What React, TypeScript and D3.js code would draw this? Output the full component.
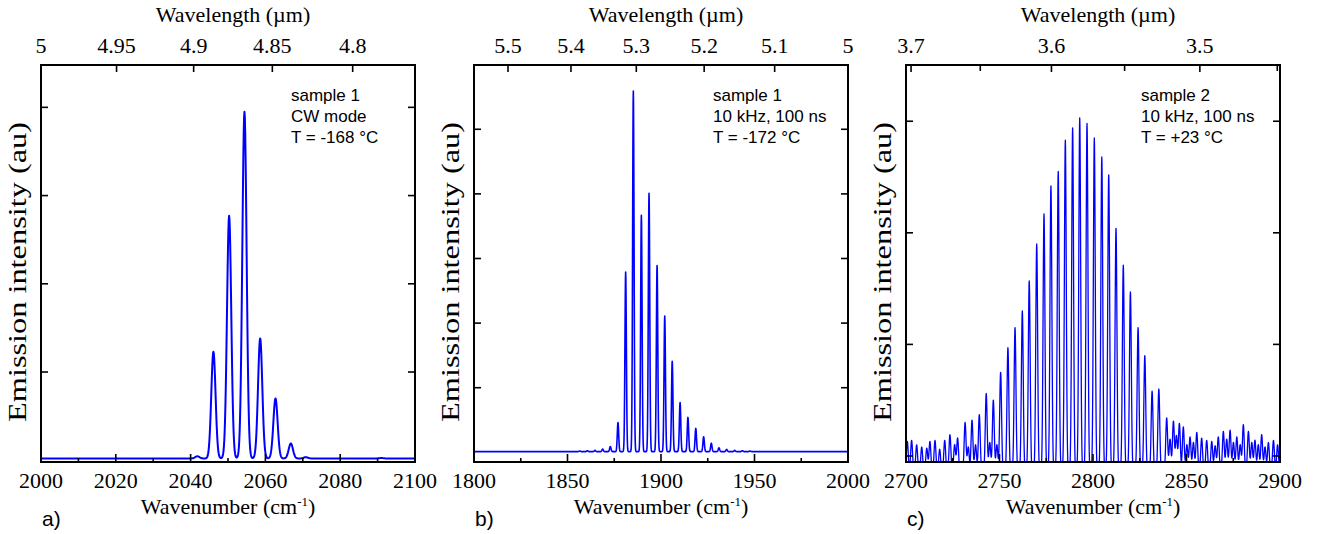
import React from "react";
import * as d3 from "d3";

// ---------- data ----------
// Panel a: sample 1, CW mode
const aPeakPos = [2041.8, 2046.1, 2050.3, 2054.4, 2058.6, 2062.7, 2066.8, 2070.8, 2091.0];
const aPeakHeight = [0.045, 1.23, 2.77, 3.95, 1.38, 0.70, 0.19, 0.035, 0.025];
const aMajorTicks = [2000, 2020, 2040, 2060, 2080, 2100];
const aMinorTicks = [2010, 2030, 2050, 2070, 2090];
const aWavelengthLabels = [5, 4.95, 4.9, 4.85, 4.8];
const aWavelengthMinor: number[] = [];
const aYTicks = [1, 2, 3, 4];
const aNote = ["sample 1", "CW mode", "T = -168 °C"];

// Panel b: sample 1, pulsed
const bPeakPos = [1856.5, 1860.6, 1864.7, 1868.8, 1872.9, 1877.0, 1881.1, 1885.2, 1889.5, 1893.6, 1897.9, 1902.0, 1906.0, 1910.2, 1914.4, 1918.6, 1922.8, 1926.9, 1931.0, 1935.1, 1939.4, 1943.5, 1947.6];
const bPeakHeight = [0.02, 0.025, 0.03, 0.05, 0.09, 0.46, 2.79, 5.59, 3.67, 4.01, 2.89, 2.11, 1.41, 0.77, 0.54, 0.37, 0.24, 0.14, 0.07, 0.045, 0.03, 0.025, 0.02];
const bMajorTicks = [1800, 1850, 1900, 1950, 2000];
const bMinorTicks = [1825, 1875, 1925, 1975];
const bWavelengthLabels = [5.5, 5.4, 5.3, 5.2, 5.1, 5];
const bWavelengthMinor: number[] = [];
const bYTicks = [1, 2, 3, 4, 5];
const bNote = ["sample 1", "10 kHz, 100 ns", "T = -172 °C"];

// Panel c: sample 2, pulsed, room temperature
const cPeakPos = [
  2700.7, 2703.0, 2705.7, 2708.4, 2711.1, 2712.8, 2715.5, 2718.0, 2720.7, 2723.5,
  2726.0, 2727.6, 2731.6, 2733.3, 2735.3, 2737.2, 2739.2, 2742.9, 2744.8, 2746.7,
  2748.6, 2750.6, 2754.5, 2758.3, 2762.2, 2765.9, 2769.9, 2773.8, 2777.5, 2781.4,
  2785.2, 2789.1, 2792.9, 2796.8, 2800.7, 2804.7, 2808.4, 2812.3, 2816.2, 2820.0,
  2824.1, 2827.7, 2831.6, 2835.2, 2839.4, 2841.2, 2843.0, 2844.6, 2846.2, 2848.3,
  2850.2, 2851.9, 2853.7, 2855.5, 2858.1, 2860.8, 2863.5, 2865.3, 2867.0, 2869.7,
  2871.5, 2873.3, 2875.1, 2876.9, 2878.7, 2880.4, 2883.1, 2884.9, 2886.6, 2888.4,
  2890.2, 2892.0, 2893.8, 2896.5, 2898.7,
];
const cPeakHeight = [
  0.13, 0.14, 0.10, 0.08, 0.07, 0.13, 0.14, 0.06, 0.14, 0.19,
  0.10, 0.16, 0.30, 0.08, 0.32, 0.10, 0.37, 0.56, 0.12, 0.50,
  0.10, 0.75, 0.97, 1.15, 1.30, 1.57, 1.90, 2.17, 2.42, 2.55,
  2.83, 2.94, 3.03, 2.98, 2.85, 2.68, 2.52, 2.04, 1.71, 1.47,
  1.15, 0.90, 0.58, 0.60, 0.34, 0.15, 0.31, 0.18, 0.29, 0.26,
  0.10, 0.17, 0.12, 0.21, 0.16, 0.14, 0.13, 0.09, 0.17, 0.22,
  0.15, 0.23, 0.12, 0.17, 0.10, 0.28, 0.22, 0.12, 0.14, 0.10,
  0.19, 0.08, 0.12, 0.14, 0.10,
];
const cMajorTicks = [2700, 2750, 2800, 2850, 2900];
const cMinorTicks = [2725, 2775, 2825, 2875];
const cWavelengthLabels = [3.7, 3.6, 3.5];
const cWavelengthMinor = [3.65, 3.55, 3.45];
const cYTicks = [0, 1, 2, 3];
const cNote = ["sample 2", "10 kHz, 100 ns", "T = +23 °C"];

// ---------- layout ----------
const WIDTH = 1317;
const HEIGHT = 534;
const TOP = 65;
const BOTTOM = 462;
const SERIF = "'Liberation Serif', 'Times New Roman', serif";
const SANS = "'Liberation Sans', Arial, sans-serif";
const BLUE = "#0000ff";

interface PanelSpec {
  id: string;
  left: number;
  right: number;
  xDomain: [number, number];
  yDomain: [number, number];
  major: number[];
  minor: number[];
  wl: number[];
  wlMinor: number[];
  yTicks: number[];
  pos: number[];
  height: number[];
  baseline: number;
  sigma: number;
  step: number;
  lineWidth: number;
  note: string[];
  noteX: number;
  letter: string;
}

const panels: PanelSpec[] = [
  {
    id: "a", left: 41, right: 415, xDomain: [2000, 2100], yDomain: [-0.02, 4.48],
    major: aMajorTicks, minor: aMinorTicks, wl: aWavelengthLabels, wlMinor: aWavelengthMinor,
    yTicks: aYTicks, pos: aPeakPos, height: aPeakHeight, baseline: 0.02, sigma: 0.57, step: 0.1,
    lineWidth: 2, note: aNote, noteX: 291, letter: "a)",
  },
  {
    id: "b", left: 474, right: 848, xDomain: [1800, 2000], yDomain: [-0.15, 5.995],
    major: bMajorTicks, minor: bMinorTicks, wl: bWavelengthLabels, wlMinor: bWavelengthMinor,
    yTicks: bYTicks, pos: bPeakPos, height: bPeakHeight, baseline: 0.01, sigma: 0.38, step: 0.1,
    lineWidth: 1.6, note: bNote, noteX: 713, letter: "b)",
  },
  {
    id: "c", left: 906, right: 1280, xDomain: [2700, 2900], yDomain: [-0.054, 3.504],
    major: cMajorTicks, minor: cMinorTicks, wl: cWavelengthLabels, wlMinor: cWavelengthMinor,
    yTicks: cYTicks, pos: cPeakPos, height: cPeakHeight, baseline: -0.14, sigma: 0.5, step: 0.1,
    lineWidth: 1.3, note: cNote, noteX: 1141, letter: "c)",
  },
];

function Panel({ p }: { p: PanelSpec }) {
  const x = d3.scaleLinear().domain(p.xDomain).range([p.left, p.right]);
  const y = d3.scaleLinear().domain(p.yDomain).range([BOTTOM, TOP]);
  const grid = d3.range(p.xDomain[0], p.xDomain[1] + p.step / 2, p.step);
  const pts: [number, number][] = grid.map((v) => {
    let s = p.baseline;
    for (let i = 0; i < p.pos.length; i++) {
      const d = (v - p.pos[i]) / p.sigma;
      s += (p.height[i] - p.baseline) * Math.exp(-0.5 * d * d);
    }
    return [v, s];
  });
  const line = d3
    .line<[number, number]>()
    .x((d) => x(d[0]))
    .y((d) => y(d[1]));
  const cx = (p.left + p.right) / 2;
  const clipId = `clip-${p.id}`;
  const tick = { stroke: "#000", strokeWidth: 1.6 };
  return (
    <g>
      <defs>
        <clipPath id={clipId}>
          <rect x={p.left} y={TOP} width={p.right - p.left} height={BOTTOM - TOP} />
        </clipPath>
      </defs>
      <path d={line(pts) || ""} fill="none" stroke={BLUE} strokeWidth={p.lineWidth}
        strokeLinejoin="round" clipPath={`url(#${clipId})`} />
      {/* bottom ticks */}
      {p.major.map((t) => (
        <g key={`M${t}`}>
          <line x1={x(t)} x2={x(t)} y1={BOTTOM} y2={BOTTOM - 8} {...tick} />
          <text x={x(t)} y={488} textAnchor="middle" fontFamily={SERIF} fontSize={22}>{t}</text>
        </g>
      ))}
      {p.minor.map((t) => (
        <line key={`m${t}`} x1={x(t)} x2={x(t)} y1={BOTTOM} y2={BOTTOM - 4} {...tick} />
      ))}
      {/* top wavelength axis */}
      {p.wl.map((w) => (
        <g key={`w${w}`}>
          <line x1={x(10000 / w)} x2={x(10000 / w)} y1={TOP} y2={TOP + 7} {...tick} />
          <text x={x(10000 / w)} y={52.5} textAnchor="middle" fontFamily={SERIF} fontSize={22}>{String(w)}</text>
        </g>
      ))}
      {p.wlMinor.map((w) => (
        <line key={`wm${w}`} x1={x(10000 / w)} x2={x(10000 / w)} y1={TOP} y2={TOP + 6} {...tick} />
      ))}
      {/* y ticks both sides */}
      {p.yTicks.map((t) => (
        <g key={`y${t}`}>
          <line x1={p.left} x2={p.left + 7} y1={y(t)} y2={y(t)} {...tick} />
          <line x1={p.right} x2={p.right - 7} y1={y(t)} y2={y(t)} {...tick} />
        </g>
      ))}
      <rect x={p.left} y={TOP} width={p.right - p.left} height={BOTTOM - TOP} fill="none" stroke="#000" strokeWidth={2} />
      {/* titles */}
      <text x={cx + 5} y={22} textAnchor="middle" fontFamily={SERIF} fontSize={22}>Wavelength (µm)</text>
      <text x={cx} y={514} textAnchor="middle" fontFamily={SERIF} fontSize={22}>
        Wavenumber (cm<tspan dy={-8} fontSize={13}>-1</tspan><tspan dy={8}>)</tspan>
      </text>
      <text transform={`translate(${p.left - 15},${272}) rotate(-90)`} textAnchor="middle"
        fontFamily={SERIF} fontSize={25} textLength={300} lengthAdjust="spacingAndGlyphs">Emission intensity (au)</text>
      {p.note.map((s, i) => (
        <text key={s} x={p.noteX} y={101 + i * 21} fontFamily={SANS} fontSize={17}>{s}</text>
      ))}
      <text x={p.left + 1} y={526} fontFamily={SANS} fontSize={21}>{p.letter}</text>
    </g>
  );
}

export default function App() {
  return (
    <svg width={WIDTH} height={HEIGHT} viewBox={`0 0 ${WIDTH} ${HEIGHT}`}
      style={{ position: "absolute", left: 0, top: 0, display: "block", background: "#fff" }}>
      <rect width={WIDTH} height={HEIGHT} fill="#fff" />
      {panels.map((p) => (
        <Panel key={p.id} p={p} />
      ))}
    </svg>
  );
}
